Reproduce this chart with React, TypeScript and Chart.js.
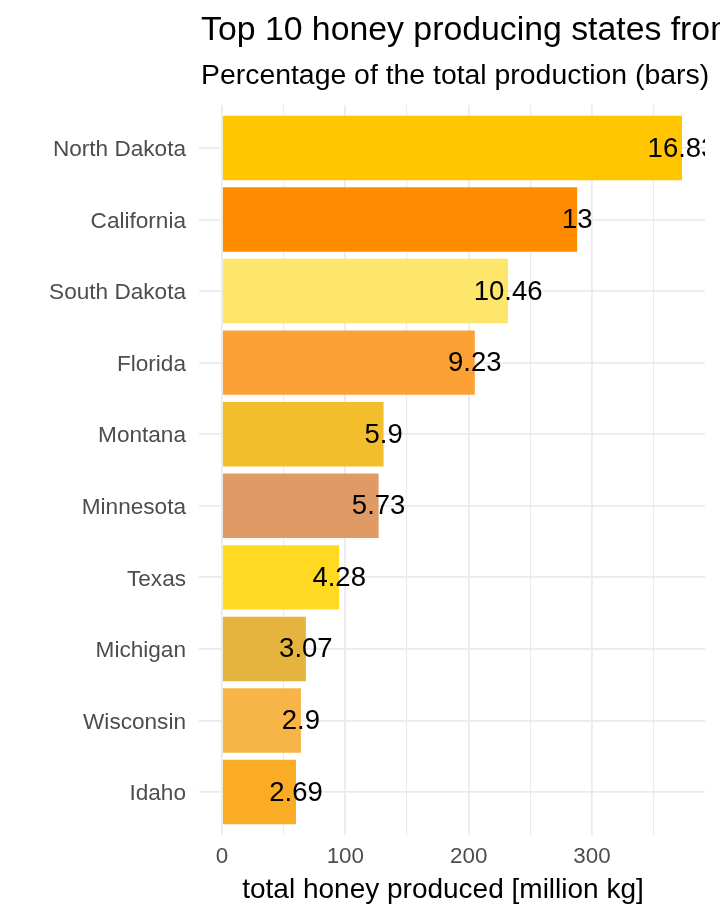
import React, { useEffect, useRef } from "react";
import { Chart, registerables } from "chart.js";

Chart.register(...registerables);

const states = [
  "North Dakota",
  "California",
  "South Dakota",
  "Florida",
  "Montana",
  "Minnesota",
  "Texas",
  "Michigan",
  "Wisconsin",
  "Idaho",
];
const production = [373, 288, 232, 205, 131, 127, 95, 68, 64, 60];
const pctLabels = ["16.83", "13", "10.46", "9.23", "5.9", "5.73", "4.28", "3.07", "2.9", "2.69"];
const barColors = [
  "#FFC500",
  "#FF8C00",
  "#FDE66B",
  "#FBA135",
  "#F3BE2B",
  "#DF9A66",
  "#FFD922",
  "#E4B43F",
  "#F7B547",
  "#F9AC24",
];
const xTicks = [0, 50, 100, 150, 200, 250, 300, 350];
const titleText = "Top 10 honey producing states from 1998 to 2012";
const subtitleText = "Percentage of the total production (bars)";
const xTitleText = "total honey produced [million kg]";

const FONT = "'Liberation Sans', Arial, Helvetica, sans-serif";

export default function App() {
  const ref = useRef<HTMLCanvasElement | null>(null);

  useEffect(() => {
    if (!ref.current) return;
    const maxV = Math.max(...production);

    const textPlugin = {
      id: "textPlugin",
      afterDatasetsDraw(chart: any) {
        const { ctx, chartArea } = chart;
        const meta = chart.getDatasetMeta(0);
        ctx.save();
        ctx.beginPath();
        ctx.rect(chartArea.left, chartArea.top, chartArea.right - chartArea.left, chartArea.bottom - chartArea.top);
        ctx.clip();
        ctx.fillStyle = "#000000";
        ctx.font = `27.5px ${FONT}`;
        ctx.textAlign = "center";
        ctx.textBaseline = "middle";
        meta.data.forEach((el: any, i: number) => {
          ctx.fillText(pctLabels[i], el.x, el.y + 1);
        });
        ctx.restore();
      },
      afterDraw(chart: any) {
        const { ctx } = chart;
        ctx.save();
        ctx.fillStyle = "#000000";
        ctx.textAlign = "left";
        ctx.textBaseline = "alphabetic";
        ctx.font = `33.8px ${FONT}`;
        ctx.fillText(titleText, 201, 40);
        ctx.font = `28.4px ${FONT}`;
        ctx.fillText(subtitleText, 201, 84);
        ctx.textAlign = "center";
        ctx.font = `28px ${FONT}`;
        ctx.fillText(xTitleText, 443, 898);
        ctx.restore();
      },
    };

    const chart = new Chart(ref.current, {
      type: "bar",
      data: {
        datasets: [
          {
            data: production.map((v, i) => ({ x: v, y: i })),
            backgroundColor: barColors,
            borderWidth: 0,
            categoryPercentage: 1,
            barPercentage: 0.9,
          } as any,
        ],
      },
      options: {
        indexAxis: "y",
        animation: false,
        responsive: false,
        maintainAspectRatio: false,
        layout: { padding: { top: 105, left: 0, right: 15, bottom: 0 } },
        plugins: {
          legend: { display: false },
          title: { display: false },
          tooltip: { enabled: false },
        },
        scales: {
          x: {
            type: "linear",
            min: -0.05 * maxV,
            max: 1.05 * maxV,
            offset: false,
            border: { display: false },
            grid: {
              color: "#EBEBEB",
              offset: false,
              lineWidth: (c: any) => (c.tick && c.tick.value % 100 === 0 ? 1.8 : 1.1),
              drawTicks: false,
            },
            afterBuildTicks: (axis: any) => {
              axis.ticks = xTicks.map((v) => ({ value: v }));
            },
            afterFit: (axis: any) => {
              axis.height = 86;
            },
            ticks: {
              color: "#4D4D4D",
              font: { size: 22.4, family: FONT },
              padding: 8,
              maxRotation: 0,
              autoSkip: false,
              callback: (v: any) => (Number(v) % 100 === 0 ? String(v) : ""),
            },
          },
          y: {
            type: "linear",
            min: -0.6,
            max: states.length - 1 + 0.6,
            reverse: true,
            offset: false,
            border: { display: false },
            grid: { color: "#EBEBEB", lineWidth: 1.8, drawTicks: false, offset: false },
            afterBuildTicks: (axis: any) => {
              axis.ticks = states.map((_, i) => ({ value: i }));
            },
            afterFit: (axis: any) => {
              axis.width = 199;
            },
            ticks: {
              color: "#4D4D4D",
              font: { size: 22.6, family: FONT },
              padding: 13,
              labelOffset: 2,
              autoSkip: false,
              callback: (v: any) => states[Number(v)] ?? "",
            },
          },
        },
      },
      plugins: [textPlugin],
    });

    return () => chart.destroy();
  }, []);

  return (
    <div style={{ position: "fixed", left: 0, top: 0, width: 720, height: 921, background: "#fff" }}>
      <canvas ref={ref} width={720} height={921} style={{ width: 720, height: 921, display: "block" }} />
    </div>
  );
}
